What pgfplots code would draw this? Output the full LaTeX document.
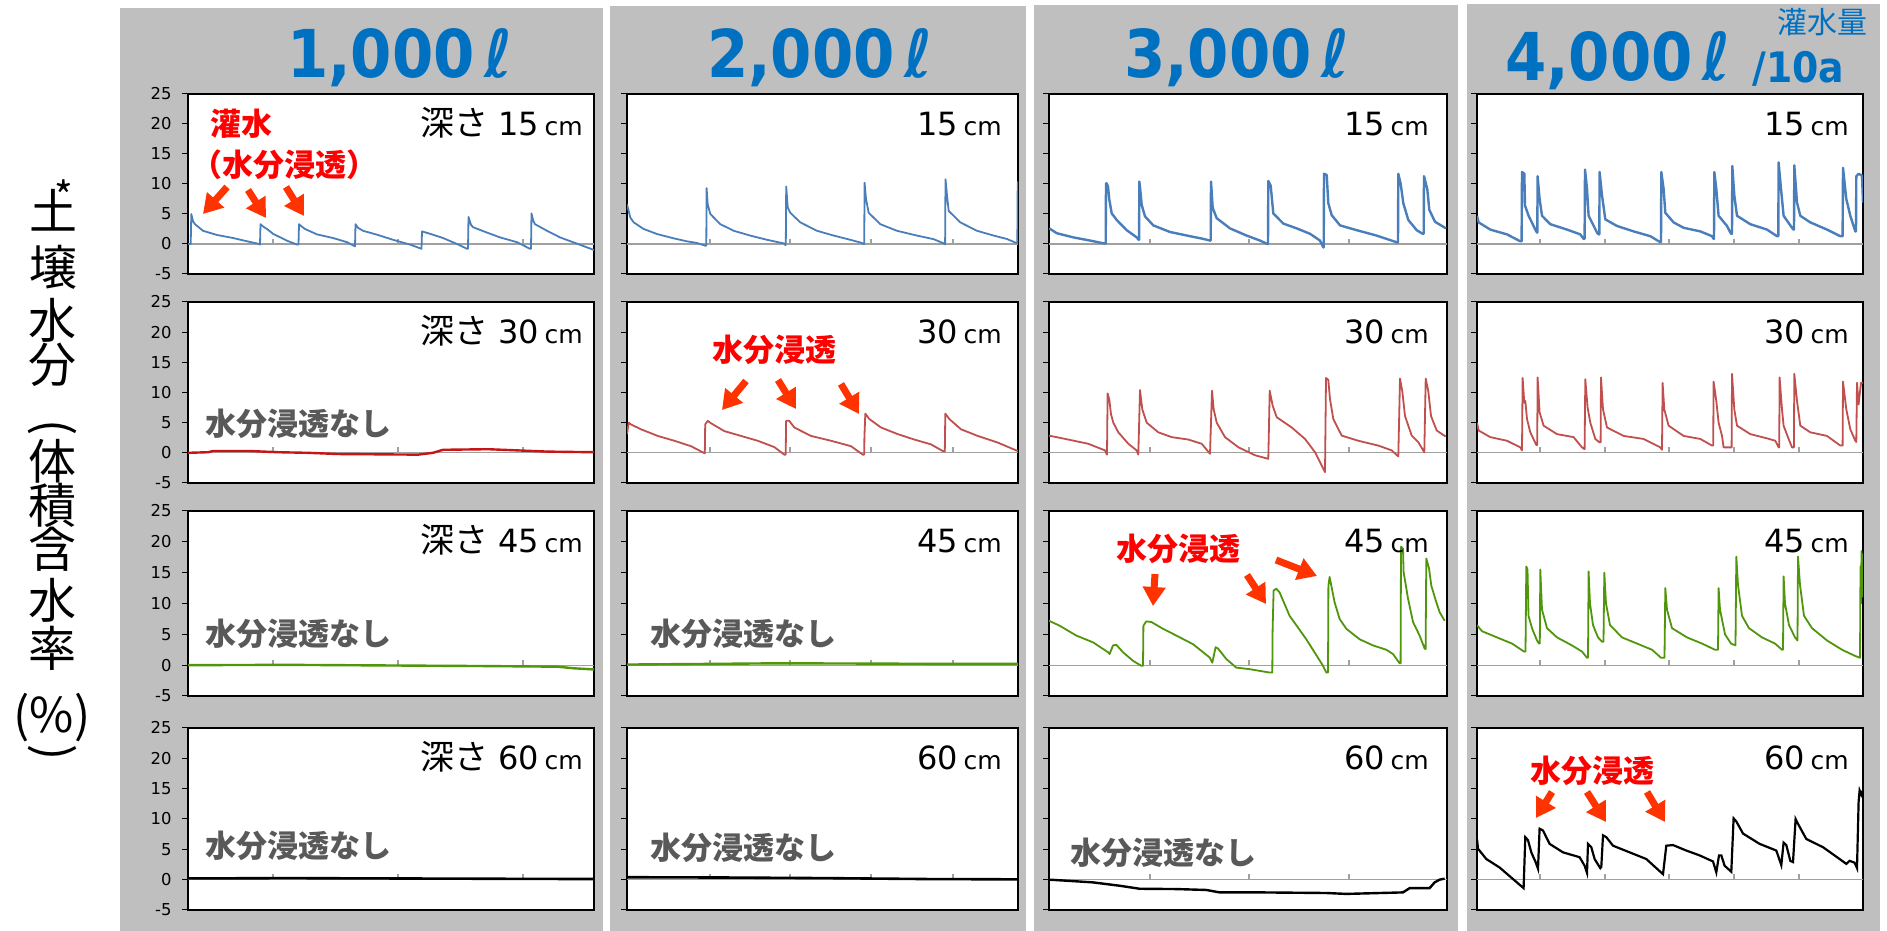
\documentclass[border=0pt]{standalone}
\usepackage{fontspec}
\setmainfont{DejaVu Sans}
\newfontfamily\jp{Noto Sans CJK JP}
\newfontfamily\titlefont[FakeStretch=0.9]{DejaVu Sans Bold}
\usepackage{pgfplots}
\pgfplotsset{compat=1.18}
\usetikzlibrary{arrows.meta}
\definecolor{bg}{RGB}{191,191,191}
\definecolor{ttl}{RGB}{0,112,192}
\definecolor{sblue}{RGB}{74,126,187}
\definecolor{sred}{RGB}{192,80,77}
\definecolor{sredA}{RGB}{200,20,20}
\definecolor{sgreen}{RGB}{80,150,10}
\definecolor{annred}{RGB}{255,0,0}
\definecolor{arr}{RGB}{255,51,0}
\definecolor{ngray}{RGB}{89,89,89}
\definecolor{zgray}{RGB}{160,160,160}
\pgfplotsset{
 panel/.style={scale only axis, xmin=0, ymin=-5, ymax=25, ytick={-5,0,...,25}, xtick=\empty,
   ytick pos=left, tick align=outside, major tick length=3pt,
   axis line style={black,line width=0.6pt}, every tick/.style={black,line width=0.5pt},
   axis background/.style={fill=white}, anchor=south west, yticklabels={}},
 lab/.style={yticklabels={-5,0,5,10,15,20,25},
   yticklabel style={font=\fontsize{8.2}{9}\selectfont, anchor=east, inner sep=0pt, xshift=-5pt}},
 zline/.style={zgray, line width=0.6pt},
 dat/.style={line width=0.9pt, line join=round},
}
\newcommand{\tk}[1]{\addplot[zline] coordinates {(#1,0) (#1,0.9)};}
\newcommand{\ann}{\jp\bfseries\fontsize{15.5}{17}\selectfont}
\newcommand{\dep}[2]{\fontsize{16}{18}\selectfont #1#2\,{\fontsize{12.5}{14}\selectfont cm}}
\newcommand{\fuka}{{\jp\fontsize{17}{19}\selectfont 深さ}\hspace{5pt}}
\begin{document}
\begin{tikzpicture}
\useasboundingbox (0,0) rectangle (943.5pt,465.5pt);
\begin{scope}[x=0.5pt, y=-0.5pt, yshift=465.5pt]
\fill[bg] (120,8) rectangle (603,931);
\fill[bg] (610,6) rectangle (1026,931);
\fill[bg] (1034,5) rectangle (1458,931);
\fill[bg] (1467,4) rectangle (1880,931);
\end{scope}

% ===== Column 1 =====
\begin{axis}[panel, lab, at={(94pt,328.5pt)}, width=203pt, height=90pt, xmax=406]
\addplot[zline] coordinates {(0,0) (406,0)}; \tk{85}\tk{210}\tk{335}
\addplot[dat, sblue] coordinates {(0,0) (2.7,0) (3.3,5.0) (5,3.8) (7,3.3) (15,2.2) (29,1.5) (45,1.0) (59,0.45) (70,0.05) (72,-0.1) (72.5,3.3) (76,2.8) (79,2.5) (85,1.7) (99,0.55) (109,-0.1) (110.5,-0.1) (111,3.3) (113,3.0) (117,2.5) (129,1.6) (145,1.0) (159,0.3) (167,-0.4) (167.5,3.3) (170,2.7) (175,2.2) (189,1.55) (205,0.7) (222,-0.1) (233.5,-0.8) (234,2.1) (242,1.7) (255,1.0) (269,0) (279,-0.8) (280,-0.8) (280.5,4.5) (283,3.2) (285,2.8) (299,1.9) (312,1.1) (329,0.3) (342,-0.8) (343,-0.8) (343.5,5.1) (345,4.0) (347,3.3) (359,2.2) (372,1.1) (385,0.3) (406,-1.0)};
\end{axis}
\begin{axis}[panel, lab, at={(94pt,224pt)}, width=203pt, height=90.5pt, xmax=406]
\addplot[zline] coordinates {(0,0) (406,0)}; \tk{85}\tk{210}\tk{335}
\addplot[line width=1.2pt, sredA] coordinates {(0,0) (20,0.1) (25,0.3) (62,0.3) (90,0.1) (120,0) (150,-0.2) (230,-0.3) (245,0) (255,0.5) (300,0.6) (330,0.4) (360,0.2) (406,0.1)};
\end{axis}
\begin{axis}[panel, lab, at={(94pt,117.5pt)}, width=203pt, height=92.5pt, xmax=406]
\addplot[zline] coordinates {(0,0) (406,0)}; \tk{85}\tk{210}\tk{335}
\addplot[line width=1.2pt, sgreen] coordinates {(0,0) (100,0.05) (200,-0.05) (300,-0.15) (370,-0.25) (385,-0.5) (406,-0.7)};
\end{axis}
\begin{axis}[panel, lab, at={(94pt,10.5pt)}, width=203pt, height=91pt, xmax=406]
\addplot[zline] coordinates {(0,0) (406,0)}; \tk{85}\tk{210}\tk{335}
\addplot[line width=1.3pt, black] coordinates {(0,0.2) (100,0.25) (200,0.2) (300,0.15) (406,0.1)};
\end{axis}

% ===== Column 2 =====
\begin{axis}[panel, at={(313.5pt,328.5pt)}, width=195.5pt, height=90pt, xmax=391]
\addplot[zline] coordinates {(0,0) (391,0)}; \tk{83}\tk{163}\tk{244}\tk{326}
\addplot[dat, sblue] coordinates {(0,6.6) (3.3,4.4) (6.7,3.6) (16.7,2.5) (30,1.66) (46.7,0.94) (60,0.44) (70,0.17) (78.3,-0.28) (79.3,-0.28) (79.6,9.3) (80.7,6.6) (83.3,5.0) (93.3,3.3) (106.7,2.2) (123.3,1.4) (140,0.7) (156.7,0.1) (158.3,-0.17) (158.8,-0.17) (159.2,9.6) (160.7,6.1) (163.3,5.2) (173.3,3.6) (190,2.2) (206.7,1.4) (223.3,0.7) (235,0.17) (236.7,0) (237.2,0) (237.6,10.2) (239,7.5) (241.7,5.2) (253.3,3.3) (270,2.2) (290,1.4) (306.7,0.8) (316.7,0.1) (317.7,-0.05) (318.1,-0.05) (318.5,10.8) (320,8.1) (321.7,5.5) (333.3,3.6) (350,2.2) (366.7,1.4) (380,0.83) (389.3,0.17) (390.3,0.1) (390.7,10.3) (391,10.3)};
\end{axis}
\begin{axis}[panel, at={(313.5pt,224pt)}, width=195.5pt, height=90.5pt, xmax=391]
\addplot[zline] coordinates {(0,0) (391,0)}; \tk{83}\tk{163}\tk{244}\tk{326}
\addplot[dat, sred] coordinates {(0,3.1) (1.7,5.0) (4,4.7) (14,3.9) (30.7,2.8) (47.3,2.0) (64,1.1) (76.7,0) (77.8,-0.1) (78.2,4.7) (80.7,5.3) (84,4.9) (97.3,3.6) (114,2.8) (130.7,2.0) (147.3,0.95) (157.3,-0.3) (158.7,-0.3) (159.1,5.3) (162.3,5.3) (167.3,4.2) (184,2.8) (204,2.0) (224,1.1) (235.7,-0.3) (237.2,-0.3) (237.4,2.5) (238.3,6.5) (242.3,5.6) (254,4.2) (270.7,3.1) (287.3,2.2) (304,1.4) (315.7,0.3) (317.8,0.2) (318.3,6.5) (322.3,5.6) (334,3.9) (350.7,2.8) (370.7,1.7) (390.7,0.3)};
\end{axis}
\begin{axis}[panel, at={(313.5pt,117.5pt)}, width=195.5pt, height=92.5pt, xmax=391]
\addplot[zline] coordinates {(0,0) (391,0)}; \tk{83}\tk{163}\tk{244}\tk{326}
\addplot[line width=1.2pt, sgreen] coordinates {(0,0.1) (80,0.2) (150,0.3) (250,0.25) (330,0.2) (391,0.2)};
\end{axis}
\begin{axis}[panel, at={(313.5pt,10.5pt)}, width=195.5pt, height=91pt, xmax=391]
\addplot[zline] coordinates {(0,0) (391,0)}; \tk{83}\tk{163}\tk{244}\tk{326}
\addplot[line width=1.3pt, black] coordinates {(0,0.4) (100,0.35) (200,0.25) (300,0.1) (391,0.05)};
\end{axis}

% ===== Column 3 =====
\begin{axis}[panel, at={(524.5pt,328.5pt)}, width=199pt, height=90pt, xmax=398]
\addplot[zline] coordinates {(0,0) (398,0)}; \tk{101}\tk{200}\tk{300}
\addplot[line width=1.2pt, sblue, line join=round] coordinates {(0.3,2.6) (7.7,1.8) (24.3,1.1) (41,0.57) (55,0.1) (56.7,0.1) (57,10.1) (57.7,10.1) (59,9.6) (60.3,7.4) (62.7,5.1) (67.7,4.0) (77.7,2.3) (87.7,1.1) (89.7,0.7) (90.1,0.7) (90.3,10.4) (91,9.5) (92.7,6.5) (96,4.6) (104.3,3.1) (121,2.0) (141,1.3) (154.3,0.85) (161,0.57) (161.7,0.57) (162,10.4) (163.7,6.0) (167.7,4.3) (181,2.6) (197.7,1.4) (211,0.57) (218.3,0) (219,0) (219.3,10.5) (221.7,9.7) (224.3,5.1) (234.3,3.4) (247.7,2.6) (261,1.7) (271,0.57) (274.3,-0.57) (274.7,-0.57) (275,11.7) (277.7,11.5) (279.3,6.8) (282.7,4.8) (291,3.1) (307.7,2.3) (327.7,1.4) (347.7,0.28) (349,0.28) (349.3,11.7) (351.7,10) (354.3,6.8) (359.3,4.0) (367.7,2.3) (373.7,1.7) (374.7,1.7) (375,11.3) (378.3,9.1) (380.3,5.7) (386,3.7) (397,2.6)};
\end{axis}
\begin{axis}[panel, at={(524.5pt,224pt)}, width=199pt, height=90.5pt, xmax=398]
\addplot[zline] coordinates {(0,0) (398,0)}; \tk{101}\tk{200}\tk{300}
\addplot[dat, sred] coordinates {(0,2.85) (19.3,2.2) (39.3,1.5) (56,0.4) (58,-0.3) (58.6,9.85) (60.3,8.8) (62,6.4) (64.3,5.0) (69.3,3.4) (79.3,1.5) (87.7,0.4) (89.3,-0.3) (91,10.4) (93.3,7.2) (97.7,5.0) (109.3,3.4) (122.7,2.6) (139.3,2.2) (152.7,1.5) (161,-0.16) (163,10.3) (164.7,7.2) (167.7,5.0) (176,2.6) (189.3,0.93) (206,-0.4) (219.3,-1.0) (220.7,10.3) (223.7,7.8) (227.7,5.9) (242.7,4.2) (256,2.3) (266,0.1) (276,-3.2) (277,12.4) (279.3,12.1) (281,8.9) (284.3,5.6) (292.7,2.85) (309.3,2.0) (329.3,1.2) (342.7,0.4) (349.3,-0.6) (351,12.3) (353.3,10.2) (356,6.1) (362.7,2.85) (369.3,1.75) (375.3,0.1) (376.7,12.3) (379.3,10.2) (382,6.1) (387.7,3.7) (396.7,2.7)};
\end{axis}
\begin{axis}[panel, at={(524.5pt,117.5pt)}, width=199pt, height=92.5pt, xmax=398]
\addplot[zline] coordinates {(0,0) (398,0)}; \tk{101}\tk{200}\tk{300}
\addplot[dat, sgreen] coordinates {(0,7.2) (10.6,6.4) (27.3,4.8) (44,3.7) (59,2.1) (60.6,1.8) (64,3.2) (67.3,3.3) (74,2.1) (84,0.7) (92.3,-0.1) (94,-0.1) (94.4,6.4) (97.3,7.1) (102.3,7.0) (114,5.9) (127.3,4.8) (144,3.4) (160.6,1.25) (163.3,0.4) (166.6,2.9) (169,2.7) (177.3,1.0) (187.3,-0.4) (200.6,-0.65) (220.6,-1.2) (223.3,-1.2) (223.6,5.6) (224.6,12.1) (227.3,12.4) (230.6,11.8) (240.6,8.0) (257.3,4.2) (274,-0.1) (277.3,-1.2) (279,-1.2) (279.4,12.9) (280.6,14.3) (282.3,12.9) (285.6,10.2) (290.6,7.5) (297.3,5.9) (310.6,4.2) (324,3.2) (337.3,2.5) (344,1.8) (350.6,0.3) (351.6,0.3) (352,19.2) (354,18.9) (354.6,15.1) (359,10.8) (364,7.0) (370.6,4.8) (375.6,2.7) (376.6,2.6) (377.3,17.3) (380,15.7) (382.3,12.9) (387.3,10.2) (390.6,8.6) (395.6,7.2)};
\end{axis}
\begin{axis}[panel, at={(524.5pt,10.5pt)}, width=199pt, height=91pt, xmax=398]
\addplot[zline] coordinates {(0,0) (398,0)}; \tk{101}\tk{200}\tk{300}
\addplot[line width=1.2pt, black] coordinates {(0,0) (17.3,-0.17) (44,-0.45) (70.6,-1.0) (90.6,-1.5) (127.3,-1.55) (157.3,-1.7) (170.6,-2.1) (210.6,-2.1) (277.3,-2.2) (297.3,-2.35) (354,-2.1) (360.6,-1.4) (374,-1.4) (380.6,-1.4) (385.6,-0.45) (390.6,0) (395.6,0.17)};
\end{axis}

% ===== Column 4 =====
\begin{axis}[panel, at={(738.5pt,328.5pt)}, width=193pt, height=90pt, xmax=386]
\addplot[zline] coordinates {(0,0) (386,0)}; \tk{63}\tk{128}\tk{192}\tk{257}\tk{322}
\addplot[line width=1.2pt, sblue, line join=round] coordinates {(0,4.7) (1.6,3.6) (13.3,2.4) (30,1.6) (43.3,0.45) (44.6,0.45) (45,12.0) (47.3,11.7) (48,6.4) (51.6,4.7) (58.3,2.4) (60,1.9) (60.3,1.9) (60.6,11.3) (62.6,7.5) (65,4.7) (73.3,3.3) (90,2.4) (103.3,1.6) (106.6,0.85) (107.6,0.85) (108,12.4) (110,9.2) (111.6,4.7) (120,1.9) (121.6,1.6) (122.3,1.6) (122.6,12.0) (125,8.1) (128.3,4.1) (140,3.0) (156.6,2.1) (173.3,1.3) (183.3,0.3) (184,0.3) (184.3,12.0) (186.6,9.2) (188.3,5.2) (196.6,3.6) (206.6,2.7) (223.3,2.1) (235,1.3) (236.6,0.85) (237,0.85) (237.3,12.0) (239.3,9.2) (241.6,4.7) (250,3.0) (254,1.7) (255,1.7) (255.3,13.0) (257.3,8.1) (260,4.7) (273.3,3.3) (290,2.4) (300,1.3) (301.3,1.3) (301.6,13.6) (304,9.2) (306.6,4.7) (315,2.7) (316.6,2.4) (317,2.4) (317.3,13.1) (320,6.9) (323.3,4.7) (333.3,3.6) (350,2.4) (363.3,1.3) (365.6,1.3) (366,12.7) (369.3,7.5) (373.3,4.7) (378.3,2.1) (379,2.1) (379.3,11.3) (381.6,11.7) (385,11.4) (386,6.9)};
\end{axis}
\begin{axis}[panel, at={(738.5pt,224pt)}, width=193pt, height=90.5pt, xmax=386]
\addplot[zline] coordinates {(0,0) (386,0)}; \tk{63}\tk{128}\tk{192}\tk{257}\tk{322}
\addplot[dat, sred] coordinates {(0,5.0) (1.6,3.7) (13.3,2.6) (30,2.0) (43.3,0.9) (45,0.4) (45.6,12.4) (47.3,8.3) (48.3,8.6) (50,5.6) (53.3,3.4) (59.3,1.3) (60.2,1.3) (60.6,12.5) (62.6,6.7) (66.6,4.5) (80,3.1) (96.6,2.6) (105,0.9) (107.6,0.6) (108.3,12.2) (110.6,7.5) (113.3,5.0) (118.3,2.3) (122.3,1.75) (123.6,1.75) (124,12.5) (126,7.2) (130,4.2) (146.6,2.8) (166.6,2.3) (183.3,0.9) (185,0.5) (185.6,11.6) (187.3,7.2) (191.6,4.5) (206.6,2.8) (223.3,2.3) (235,1.2) (236.2,1.2) (236.6,11.8) (239.3,8.6) (241.6,5.0) (245,2.8) (246.6,0.9) (254.6,0.9) (255,13.1) (257.3,7.2) (260,4.5) (273.3,3.1) (290,2.4) (298.3,2.0) (301.6,0.9) (302.2,0.9) (302.6,12.5) (305,7.2) (306.6,4.5) (311.6,2.3) (315,0.9) (316.9,0.9) (317.3,13.1) (320,8.6) (323.3,4.5) (333.3,3.4) (350,2.8) (363.3,1.2) (365.6,1.2) (366,11.8) (369.3,7.2) (373.3,3.9) (378.3,2.0) (379.3,1.8) (380,11.6) (381.6,8.0) (384,11.6) (386,11.6)};
\end{axis}
\begin{axis}[panel, at={(738.5pt,117.5pt)}, width=193pt, height=92.5pt, xmax=386]
\addplot[zline] coordinates {(0,0) (386,0)}; \tk{63}\tk{128}\tk{192}\tk{257}\tk{322}
\addplot[dat, sgreen] coordinates {(0,6.5) (5,5.5) (20,4.5) (35,3.5) (47,2.2) (48.5,2.2) (49.3,16) (50.5,15.5) (51.5,8) (55,6) (60,4) (62,3.5) (62.8,3.5) (63.3,15.5) (65,9) (70,6) (80,4.5) (95,3.2) (105,2.2) (110,1.2) (111,1.2) (111.6,15.2) (113,10) (116,6.5) (121,4.5) (125,3.8) (126.5,3.8) (127.3,15) (129,10) (133,6.5) (145,4.5) (160,3.5) (175,2.5) (184,1.2) (187.5,1.2) (188.3,12.5) (190,9) (195,6) (210,4.5) (225,3.5) (238,2.5) (241,2.5) (241.6,12.5) (243,9) (248,5) (254,3.5) (258.5,3.2) (259.3,17.6) (261,13) (265,8) (272,6) (285,4.5) (298,3.5) (305,2.5) (306,2.5) (306.6,14.4) (308,10) (312,6.5) (318,4.5) (320.5,4) (321,17.6) (323,13) (327,8) (335,6) (350,4) (365,2.5) (378,1.5) (383,1.2) (383.5,16) (384,10) (384.5,18.5) (385,12) (385.5,18) (386,11)};
\end{axis}
\begin{axis}[panel, at={(738.5pt,10.5pt)}, width=193pt, height=91pt, xmax=386]
\addplot[zline] coordinates {(0,0) (386,0)}; \tk{63}\tk{128}\tk{192}\tk{257}\tk{322}
\addplot[line width=1.1pt, black] coordinates {(0,6.7) (1,5.1) (9.3,3.4) (22.6,2.0) (36,0.1) (46.6,-1.4) (48.3,7.0) (51,6.5) (54.3,4.5) (58.6,2.9) (61,1.8) (62.6,8.4) (66,8.1) (72.6,5.9) (86,4.5) (102.6,3.7) (107.6,2.3) (110,1.1) (111,5.9) (114.3,5.35) (117.6,3.4) (123.3,1.9) (124.3,2.1) (126,7.3) (129.3,7.0) (136,5.6) (152.6,4.5) (169.3,3.4) (186,0.9) (189.3,5.6) (196,5.7) (209.3,4.8) (222.6,4.0) (236,3.0) (239.3,1.2) (242,4.0) (244.3,4.0) (247.6,2.3) (254.3,1.3) (256.6,10.1) (259.3,9.6) (266,7.6) (282.6,5.9) (299.3,4.8) (304.3,2.4) (306.6,6.1) (309.3,5.7) (313.3,3.1) (316,2.9) (318.6,10.0) (321,9.2) (329.3,6.7) (346,5.35) (362.6,3.4) (369.3,2.6) (372.6,3.1) (377.6,2.8) (380,1.9) (381.6,12.8) (382.6,14.7) (384.3,14.0) (386.6,15.0)};
\end{axis}

\begin{scope}[x=0.5pt, y=-0.5pt, yshift=465.5pt]
% titles
\node[anchor=base, inner sep=0, text=ttl, font=\titlefont\fontsize{33}{36}\selectfont] at (400,78) {1,000\hspace{5pt}ℓ};
\node[anchor=base, inner sep=0, text=ttl, font=\titlefont\fontsize{33}{36}\selectfont] at (820,78) {2,000\hspace{5pt}ℓ};
\node[anchor=base, inner sep=0, text=ttl, font=\titlefont\fontsize{33}{36}\selectfont] at (1237,78) {3,000\hspace{5pt}ℓ};
\node[anchor=base, inner sep=0, text=ttl, font=\titlefont\fontsize{33}{36}\selectfont] at (1618,81) {4,000\hspace{5pt}ℓ};
\node[anchor=base west, inner sep=0, text=ttl, font=\titlefont\fontsize{21}{23}\selectfont] at (1752,83) {/10a};
\node[anchor=east, inner sep=0, text=ttl, font=\jp\fontsize{15}{17}\selectfont] at (1868,22) {灌水量};
% y label
\begin{scope}[every node/.style={inner sep=0, font=\jp\fontsize{24}{26}\selectfont}]
\node at (54,210) {土};
\node at (54,267) {壌};
\node at (52,320) {水};
\node at (52,365) {分};
\node[rotate=-90] at (52,428) {(};
\node at (52,461) {体};
\node at (52,505) {積};
\node at (52,549) {含};
\node at (52,600) {水};
\node at (52,648) {率};
\node at (52,718) {(\%)};
\node[rotate=-90] at (52,753) {)};
\node[anchor=base, font=\jp\fontsize{20}{22}\selectfont] at (64,212) {*};
\end{scope}
% depth labels
\begin{scope}[every node/.style={anchor=base east, inner sep=0}]
\node at (583,136) {\fuka\dep{1}{5}};
\node at (583,344) {\fuka\dep{3}{0}};
\node at (583,553) {\fuka\dep{4}{5}};
\node at (583,770) {\fuka\dep{6}{0}};
\node at (1002,136) {\dep{1}{5}};
\node at (1002,344) {\dep{3}{0}};
\node at (1002,553) {\dep{4}{5}};
\node at (1002,770) {\dep{6}{0}};
\node at (1429,136) {\dep{1}{5}};
\node at (1429,344) {\dep{3}{0}};
\node at (1429,553) {\dep{4}{5}};
\node at (1429,770) {\dep{6}{0}};
\node at (1849,136) {\dep{1}{5}};
\node at (1849,344) {\dep{3}{0}};
\node at (1849,553) {\dep{4}{5}};
\node at (1849,770) {\dep{6}{0}};
\end{scope}
% annotations
\begin{scope}[every node/.style={anchor=west, inner sep=0}]
\node[text=annred, font=\ann] at (210,124) {灌水};
\node[text=annred, font=\ann] at (191,165) {（水分浸透）};
\node[text=annred, font=\ann] at (712,350) {水分浸透};
\node[text=annred, font=\ann] at (1116,549) {水分浸透};
\node[text=annred, font=\ann] at (1530,771) {水分浸透};
\node[text=ngray, font=\ann] at (205,424) {水分浸透なし};
\node[text=ngray, font=\ann] at (205,634) {水分浸透なし};
\node[text=ngray, font=\ann] at (205,846) {水分浸透なし};
\node[text=ngray, font=\ann] at (650,634) {水分浸透なし};
\node[text=ngray, font=\ann] at (650,848) {水分浸透なし};
\node[text=ngray, font=\ann] at (1070,853) {水分浸透なし};
\end{scope}
\begin{scope}[arr, line width=3.5pt, -{Triangle[length=9.5pt,width=11pt]}]
\draw (227,187) -- (203,214);
\draw (248,190) -- (266,218);
\draw (286,187) -- (304,216);
\draw (746,381) -- (722,410);
\draw (778,380) -- (796,409);
\draw (841,384) -- (859,414);
\draw (1155,574) -- (1153,606);
\draw (1247,575) -- (1266,604);
\draw (1276,560) -- (1317,576);
\draw (1552,792) -- (1536,818);
\draw (1587,792) -- (1606,822);
\draw (1647,792) -- (1665,822);
\end{scope}
\end{scope}
\end{tikzpicture}
\end{document}
